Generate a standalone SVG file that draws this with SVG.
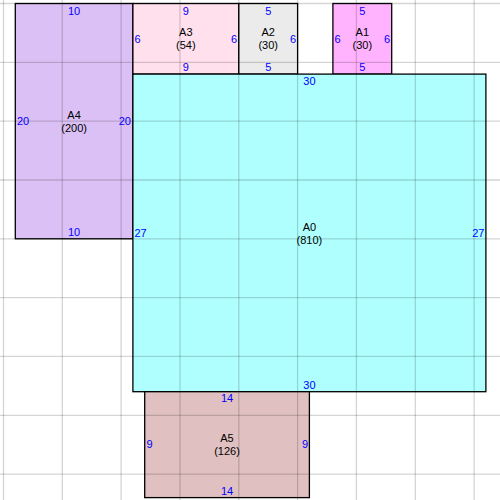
<svg xmlns="http://www.w3.org/2000/svg" width="500" height="500" viewBox="0 0 500 500">
<style>
.r{stroke:#000;stroke-width:1.3}
.g line{stroke:#000;stroke-opacity:0.17;stroke-width:1.3}
text{font-family:"Liberation Sans",Arial,sans-serif;font-size:11px;dominant-baseline:central}
.d{fill:#0000ff}
.n{fill:#000;text-anchor:middle}
.m{text-anchor:middle}
.e{text-anchor:end}
</style>
<rect width="500" height="500" fill="#fff"/>
<g id="A4"><rect class="r" x="15.3" y="3.5" width="117.6" height="235.3" fill="#dbc0f5"/></g>
<g id="A3"><rect class="r" x="132.9" y="3.5" width="105.9" height="70.6" fill="#ffe0ec"/></g>
<g id="A2"><rect class="r" x="238.8" y="3.5" width="58.8" height="70.6" fill="#ebebeb"/></g>
<g id="A1"><rect class="r" x="332.9" y="3.5" width="58.8" height="70.6" fill="#ffb3ff"/></g>
<g id="A0"><rect class="r" x="132.9" y="74.1" width="353" height="317.6" fill="#b0ffff"/></g>
<g id="A5"><rect class="r" x="144.7" y="391.7" width="164.7" height="105.9" fill="#e0c0c0"/></g>
<g class="g">
<line x1="3.5" y1="0" x2="3.5" y2="500"/><line x1="62.3" y1="0" x2="62.3" y2="500"/><line x1="121.1" y1="0" x2="121.1" y2="500"/><line x1="180" y1="0" x2="180" y2="500"/><line x1="238.8" y1="0" x2="238.8" y2="500"/><line x1="297.6" y1="0" x2="297.6" y2="500"/><line x1="356.4" y1="0" x2="356.4" y2="500"/><line x1="415.3" y1="0" x2="415.3" y2="500"/><line x1="474.1" y1="0" x2="474.1" y2="500"/>
<line x1="0" y1="3.5" x2="500" y2="3.5"/><line x1="0" y1="62.3" x2="500" y2="62.3"/><line x1="0" y1="121.1" x2="500" y2="121.1"/><line x1="0" y1="180" x2="500" y2="180"/><line x1="0" y1="238.8" x2="500" y2="238.8"/><line x1="0" y1="297.6" x2="500" y2="297.6"/><line x1="0" y1="356.4" x2="500" y2="356.4"/><line x1="0" y1="415.3" x2="500" y2="415.3"/><line x1="0" y1="474.1" x2="500" y2="474.1"/>
</g>
<g id="A4-labels">
<text class="d m" x="74.1" y="10.5">10</text><text class="d m" x="74.1" y="232">10</text>
<text class="d" x="17" y="121">20</text><text class="d e" x="131" y="121">20</text>
<text class="n" x="74.1" y="114.5">A4</text><text class="n" x="74.1" y="127.5">(200)</text>
</g>
<g id="A3-labels">
<text class="d m" x="185.8" y="10.5">9</text><text class="d m" x="185.8" y="67">9</text>
<text class="d" x="134.5" y="39">6</text><text class="d e" x="237" y="39">6</text>
<text class="n" x="185.8" y="31.5">A3</text><text class="n" x="185.8" y="44.5">(54)</text>
</g>
<g id="A2-labels">
<text class="d m" x="268.2" y="10.5">5</text><text class="d m" x="268.2" y="67">5</text>
<text class="d e" x="296" y="39">6</text>
<text class="n" x="268.2" y="31.5">A2</text><text class="n" x="268.2" y="44.5">(30)</text>
</g>
<g id="A1-labels">
<text class="d m" x="362.3" y="10.5">5</text><text class="d m" x="362.3" y="67">5</text>
<text class="d" x="334.5" y="39">6</text><text class="d e" x="390" y="39">6</text>
<text class="n" x="362.3" y="31.5">A1</text><text class="n" x="362.3" y="44.5">(30)</text>
</g>
<g id="A0-labels">
<text class="d m" x="309.4" y="81">30</text><text class="d m" x="309.4" y="385">30</text>
<text class="d" x="134.5" y="233">27</text><text class="d e" x="484.5" y="233">27</text>
<text class="n" x="309.4" y="226.5">A0</text><text class="n" x="309.4" y="239.5">(810)</text>
</g>
<g id="A5-labels">
<text class="d m" x="227" y="397.7">14</text><text class="d m" x="227" y="490.7">14</text>
<text class="d" x="146.5" y="444.2">9</text><text class="d e" x="308" y="444.2">9</text>
<text class="n" x="227" y="437.5">A5</text><text class="n" x="227" y="450.5">(126)</text>
</g>
</svg>
